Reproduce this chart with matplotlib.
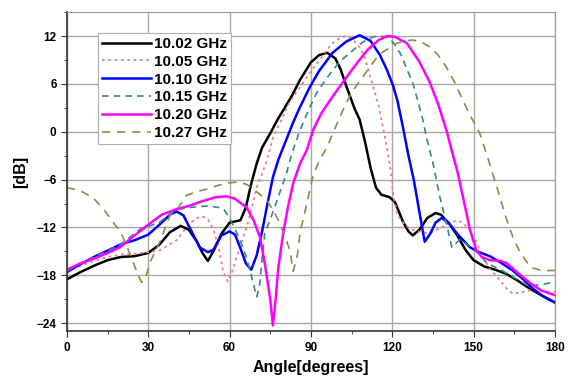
#!/usr/bin/env python3

import matplotlib
matplotlib.use("Agg")
import matplotlib.pyplot as plt
from matplotlib.ticker import MultipleLocator

# MARK: data
ang_1002 = [0, 5, 10, 15, 20, 25, 30, 34, 38, 42, 45, 48, 50, 52, 54, 57, 60, 64, 66, 68,
            70, 72, 75, 78, 80, 83, 86, 90, 93, 96, 99, 101, 103, 106, 108, 110, 112, 114,
            116, 119, 121, 124, 126, 127.6, 130, 133, 136, 138, 141, 144, 147, 150, 154,
            158, 162, 166, 170, 175, 180]
db_1002 = [-18.5, -17.6, -16.8, -16.1, -15.7, -15.6, -15.2, -14.2, -12.6, -11.8, -12.3,
           -13.8, -15.2, -16.2, -15.0, -12.8, -11.4, -11.1, -9.5, -6.5, -4.0, -2.0, -0.2,
           1.7, 2.8, 4.5, 6.5, 8.7, 9.6, 9.9, 9.2, 7.8, 5.8, 3.0, 1.5, -1.3, -4.5, -7.0,
           -7.9, -8.2, -8.8, -11.3, -12.5, -13.0, -12.3, -10.8, -10.2, -10.4, -11.5, -13.0,
           -14.8, -16.1, -16.9, -17.3, -17.8, -18.6, -19.5, -20.5, -21.4]

ang_1005 = [0, 5, 10, 15, 20, 25, 30, 34, 37, 40.5, 43, 45, 48, 50, 52, 54, 56, 57.6,
            59.4, 61, 63, 66.3, 68, 70, 72, 73.8, 76, 78.6, 82, 86, 90, 93.3, 96, 98, 101,
            103, 105, 108, 110, 113, 115, 118, 119.5, 120.5, 122, 125, 127.6, 131, 134,
            137, 140, 144, 146, 148.7, 151, 153.5, 156, 159.8, 162, 164.5, 168, 171, 176,
            180]
db_1005 = [-17.5, -16.8, -16.2, -15.7, -15.4, -15.3, -15.1, -14.9, -14.3, -13.6, -12.5,
           -11.6, -10.8, -10.6, -11.0, -12.2, -14.5, -17.5, -18.8, -17.5, -15.3, -12.0,
           -9.8, -7.0, -5.3, -3.5, -0.8, 1.1, 3.6, 5.6, 7.6, 9.0, 10.3, 11.1, 11.8, 12.0,
           11.7, 10.6, 9.2, 5.6, 3.3, -1.9, -5.0, -8.2, -10.5, -11.8, -12.3, -12.6, -12.7,
           -12.2, -11.7, -11.1, -11.4, -12.3, -13.8, -15.7, -17.2, -18.6, -19.6, -20.3,
           -20.1, -19.9, -20.0, -20.1]

ang_1010 = [0, 5, 10, 15, 20, 25, 30, 34, 38, 40.5, 43, 46, 49, 52, 54, 57, 60, 62, 64,
            66, 68, 70, 72, 74, 76, 78, 80, 83.5, 86, 89.6, 93, 98, 103, 108, 112, 115.5,
            118, 120.3, 122, 124, 126, 128, 130, 132, 134, 136, 138.3, 141, 144, 148.7,
            152, 156, 160, 164.5, 168, 172, 176, 180]
db_1010 = [-17.6, -16.6, -15.7, -14.9, -14.1, -13.6, -12.9, -11.7, -10.4, -10.0, -10.5,
           -12.5, -14.5, -15.1, -14.8, -13.0, -12.5, -12.9, -14.6, -16.5, -17.3, -15.5,
           -12.5, -9.0, -5.7, -3.5, -1.8, 1.2, 3.1, 5.6, 7.6, 9.9, 11.3, 12.1, 11.4, 9.6,
           7.8, 5.8, 3.8, 0.5, -3.0, -6.1, -10.0, -13.8, -12.8, -11.4, -10.8, -11.5, -12.8,
           -14.5, -15.1, -15.6, -16.4, -17.4, -18.4, -19.7, -20.7, -21.4]

ang_1015 = [0, 5, 10, 15, 20, 27, 34, 40, 45, 52, 56, 58, 60, 62, 64, 66, 68, 70, 71, 72,
            73, 75, 76.7, 79.8, 81, 83, 86, 89, 92, 95, 98, 101, 105.5, 109, 113, 116, 119,
            121, 123, 125, 127.6, 129.5, 131.3, 133, 135, 137.6, 140, 142, 145, 148, 152,
            155, 160, 165, 170, 175, 180]
db_1015 = [-17.5, -16.5, -15.7, -14.9, -14.1, -12.2, -11.4, -9.8, -9.5, -9.3, -9.5, -9.8,
           -10.8, -12.2, -13.7, -15.5, -18.0, -20.7, -19.5, -16.0, -12.7, -11.0, -9.4,
           -6.4, -5.2, -2.7, 0.2, 2.6, 4.8, 6.3, 7.7, 8.9, 10.2, 11.2, 11.9, 12.0, 11.7,
           10.9, 9.8, 8.2, 6.1, 3.8, 1.5, -1.2, -3.9, -8.2, -11.5, -14.5, -13.5, -14.2,
           -15.3, -16.5, -17.3, -18.3, -19.3, -19.2, -18.8]

ang_1020 = [0, 5, 10, 15, 19.5, 25, 30.6, 35, 40.5, 45, 50, 55, 59, 62, 66.3, 69, 71.2,
            73, 75, 76, 77, 78, 79.8, 81.5, 83.5, 86, 88.5, 90.8, 94, 98, 102, 107, 111,
            115, 118, 121, 125.4, 130, 134, 137, 140, 142, 144.2, 146, 148.7, 151, 153,
            156, 160, 162.3, 166, 171, 175, 180]
db_1020 = [-17.3, -16.5, -15.9, -15.2, -14.5, -13.0, -11.5, -10.4, -9.7, -9.3, -8.7, -8.2,
           -8.1, -8.4, -9.5, -11.2, -13.2, -16.5, -21.0, -24.3, -21.0, -17.0, -12.7, -9.5,
           -6.4, -4.0, -2.3, 0.2, 2.4, 4.4, 6.3, 8.6, 10.3, 11.5, 12.0, 11.9, 11.1, 8.8,
           6.1, 3.4, 0.2, -2.4, -5.2, -8.0, -12.3, -14.8, -15.7, -16.1, -16.2, -16.5, -17.6,
           -19.0, -19.9, -20.5]

ang_1027 = [0, 5, 9.7, 13, 15.9, 20, 24, 26, 27.6, 29, 30.6, 34.3, 38, 41, 44, 48, 52.7,
            56, 60, 63, 66.3, 68.7, 71, 73.8, 76, 78.6, 80.5, 82.2, 83.5, 85, 86, 88.5,
            90.8, 93, 96, 99, 101.8, 105, 109.2, 113, 115.5, 118, 121.7, 125, 127.6, 131,
            134, 137, 140, 143, 146, 149, 152.3, 155, 157, 158.6, 160, 162, 164.5, 167, 171,
            175, 180]
db_1027 = [-7.0, -7.4, -8.3, -9.5, -10.8, -12.7, -15.9, -17.8, -18.9, -18.3, -16.4, -13.8,
           -10.5, -9.6, -8.0, -7.5, -7.1, -6.7, -6.4, -6.3, -6.6, -7.2, -7.8, -8.6, -9.8,
           -11.5, -13.2, -14.8, -17.5, -15.5, -12.7, -9.0, -5.5, -3.7, -1.9, 0.5, 2.7, 4.9,
           6.9, 8.7, 9.8, 10.3, 11.1, 11.4, 11.5, 11.2, 10.6, 9.6, 8.1, 6.2, 4.0, 1.9,
           -0.2, -3.0, -5.2, -6.9, -8.5, -10.8, -13.2, -15.0, -17.0, -17.4, -17.4]

labels = ["10.02 GHz", "10.05 GHz", "10.10 GHz", "10.15 GHz", "10.20 GHz", "10.27 GHz"]
x_ticks = [0, 30, 60, 90, 120, 150, 180]
y_ticks = [-24, -18, -12, -6, 0, 6, 12]


def main():
    plt.rcParams["font.family"] = ["Liberation Sans", "DejaVu Sans"]
    plt.rcParams["font.weight"] = "bold"

    fig = plt.figure(figsize=(5.72, 3.78), dpi=100)
    ax = fig.add_axes([0.117, 0.124, 0.853, 0.844])

    series = [
        (ang_1002, db_1002, "#000000", "-", 1.8),
        (ang_1005, db_1005, "#f07c7c", (0, (1.5, 2.0)), 1.3),
        (ang_1010, db_1010, "#0000ff", "-", 1.8),
        (ang_1015, db_1015, "#2f8c8c", (0, (4, 3)), 1.2),
        (ang_1020, db_1020, "#ff00ff", "-", 1.8),
        (ang_1027, db_1027, "#8c8c4a", (0, (5, 4)), 1.2),
    ]
    for (x, y, color, ls, lw), label in zip(series, labels):
        ax.plot(x, y, color=color, linestyle=ls, linewidth=lw, label=label)

    ax.set_xlim(0, 180)
    ax.set_ylim(-25, 15)
    ax.set_xticks(x_ticks)
    ax.set_yticks(y_ticks)
    ax.xaxis.set_minor_locator(MultipleLocator(15))
    ax.yaxis.set_minor_locator(MultipleLocator(3))
    ax.tick_params(which="major", direction="out", length=4, labelsize=8.5, color="#333333")
    ax.tick_params(which="minor", direction="out", length=2, color="#333333")
    for lab in ax.get_xticklabels() + ax.get_yticklabels():
        lab.set_fontweight("bold")

    ax.grid(True, which="major", color="#a8a8a8", linewidth=1.0)
    ax.set_axisbelow(True)
    for side in ["top", "right"]:
        ax.spines[side].set_color("#9a9a9a")
    for side in ["left", "bottom"]:
        ax.spines[side].set_color("#333333")
        ax.spines[side].set_linewidth(1.2)

    ax.set_xlabel("Angle[degrees]", fontsize=11.5, fontweight="bold", labelpad=5)
    ax.set_ylabel("[dB]", fontsize=11.5, fontweight="bold", labelpad=6)

    leg = ax.legend(
        loc="upper left",
        bbox_to_anchor=(0.064, 0.934),
        prop={"weight": "bold", "size": 11},
        handlelength=3.2,
        handletextpad=0.2,
        labelspacing=0.25,
        borderpad=0.25,
        borderaxespad=0,
        fancybox=False,
        framealpha=1,
        edgecolor="#b0b0b0",
    )
    leg.get_frame().set_linewidth(0.8)

    fname = "out.png"
    plt.savefig(fname, dpi=100)
    print(f"wrote '{fname}'")


if __name__ == "__main__":
    main()
